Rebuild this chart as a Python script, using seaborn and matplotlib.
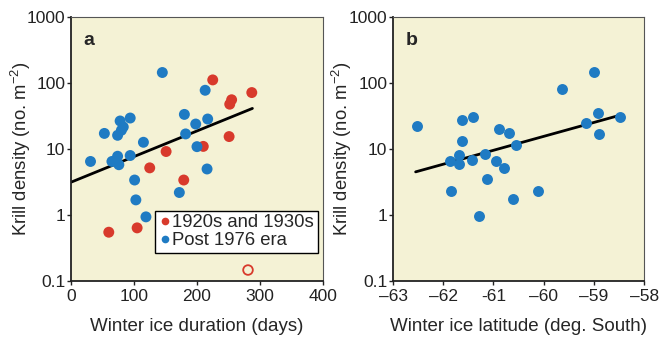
import numpy as np
import pandas as pd
import matplotlib
matplotlib.use("Agg")
import matplotlib.pyplot as plt
import seaborn as sns

# Panel a: winter ice duration (days) vs krill density
a_old_days = [225, 287, 255, 252, 251, 210, 151, 125, 179, 60, 105]
a_old_dens = [112, 72, 56, 48, 15.5, 11, 9.2, 5.2, 3.4, 0.55, 0.64]
a_new_days = [145, 213, 180, 94, 78, 83, 80, 53, 74, 198, 217, 182, 115, 200,
              94, 74, 65, 76, 31, 216, 101, 103, 172, 119]
a_new_dens = [145, 78, 33.6, 29.6, 26.7, 21.7, 19.3, 17.3, 16.2, 24, 28.6, 17,
              12.7, 10.9, 8.0, 7.8, 6.5, 5.8, 6.5, 5.0, 3.4, 1.7, 2.2, 0.94]
a_outlier_days = [281]
a_outlier_dens = [0.147]
a_fit_x = [0, 288]
a_fit_y = [3.15, 41.4]

# Panel b: winter ice latitude vs krill density
b_lat = [-62.53, -61.63, -61.41, -61.63, -61.68, -61.86, -61.69, -61.43, -61.17,
         -60.89, -60.69, -60.55, -60.94, -60.80, -61.12, -61.85, -60.62, -61.29,
         -60.11, -59.64, -59.00, -58.92, -59.15, -58.90, -58.48]
b_dens = [22.4, 27.9, 31, 13.1, 8.05, 6.5, 6.0, 6.8, 8.3, 19.9, 17.3, 11.4, 6.7,
          5.2, 3.5, 2.3, 1.77, 0.975, 2.33, 81.5, 149, 35.3, 25.2, 17, 30.7]
b_fit_x = [-62.55, -58.44]
b_fit_y = [4.52, 33.3]

era_labels = ["1920s and 1930s", "Post 1976 era"]
y_ticks = [0.1, 1, 10, 100, 1000]
y_tick_labels = ["0.1", "1", "10", "100", "1000"]
a_x_ticks = [0, 100, 200, 300, 400]
b_x_ticks = [-63, -62, -61, -60, -59, -58]
b_x_tick_labels = ["\u201363", "\u201362", "-61", "\u201360", "\u201359", "\u201358"]

red = "#d83a2c"
blue = "#1f7bc3"
bg = "#f4f2d5"

sns.set_style("ticks")
plt.rcParams["font.family"] = ["Liberation Sans", "DejaVu Sans"]
plt.rcParams["mathtext.fontset"] = "custom"
plt.rcParams["mathtext.rm"] = "Liberation Sans"
plt.rcParams["mathtext.it"] = "Liberation Sans"

df_a = pd.DataFrame({
    "days": a_old_days + a_new_days,
    "dens": a_old_dens + a_new_dens,
    "era": [era_labels[0]] * len(a_old_days) + [era_labels[1]] * len(a_new_days),
})
df_b = pd.DataFrame({"lat": b_lat, "dens": b_dens})

fig = plt.figure(figsize=(6.59, 3.37), dpi=100)
ax1 = fig.add_axes([0.1077, 0.166, 0.3824, 0.783])
ax2 = fig.add_axes([0.5964, 0.166, 0.381, 0.783])

sns.scatterplot(data=df_a, x="days", y="dens", hue="era", hue_order=era_labels,
                palette=[red, blue], s=62, linewidth=0, ax=ax1, zorder=3)
sns.scatterplot(x=a_outlier_days, y=a_outlier_dens, s=48, facecolor="none",
                edgecolor=red, linewidth=1.3, ax=ax1, zorder=3)
sns.lineplot(x=a_fit_x, y=a_fit_y, color="black", linewidth=2, ax=ax1, zorder=2)

sns.scatterplot(data=df_b, x="lat", y="dens", color=blue, s=62, linewidth=0,
                ax=ax2, zorder=3)
sns.lineplot(x=b_fit_x, y=b_fit_y, color="black", linewidth=2, ax=ax2, zorder=2)

for ax, label in [(ax1, "a"), (ax2, "b")]:
    ax.set_facecolor(bg)
    ax.set_yscale("log")
    ax.set_ylim(0.1, 1000)
    ax.set_yticks(y_ticks)
    ax.set_yticklabels(y_tick_labels)
    ax.yaxis.set_minor_locator(matplotlib.ticker.NullLocator())
    ax.tick_params(axis="both", labelsize=12.5, length=3, width=1, colors="#222222")
    ax.tick_params(axis="y", pad=1)
    ax.tick_params(axis="x", pad=2.5)
    ax.set_ylabel("Krill density (no. m$^{-2}$)", fontsize=13.3)
    for side in ["top", "right"]:
        ax.spines[side].set_linewidth(0.8)
        ax.spines[side].set_color("#555555")
    for side in ["left", "bottom"]:
        ax.spines[side].set_linewidth(1.3)
        ax.spines[side].set_color("#222222")
    ax.text(0.05, 0.91, label, transform=ax.transAxes, fontsize=14,
            fontweight="bold", va="center", ha="left")

ax1.yaxis.set_label_coords(-0.15, 0.5)
ax2.yaxis.set_label_coords(-0.154, 0.5)

ax1.set_xlim(0, 400)
ax1.set_xticks(a_x_ticks)
ax1.set_xlabel("Winter ice duration (days)", fontsize=13.5, labelpad=10)

ax2.set_xlim(-63, -58)
ax2.set_xticks(b_x_ticks)
ax2.set_xticklabels(b_x_tick_labels)
ax2.set_xlabel("Winter ice latitude (deg. South)", fontsize=13.5, labelpad=10)

leg = ax1.legend(loc="lower right", bbox_to_anchor=(0.98, 0.106), borderaxespad=0,
                 fontsize=13.3, frameon=True, fancybox=False, handletextpad=0.05,
                 handlelength=0.7, borderpad=0.2, labelspacing=0.05, markerscale=0.7)
leg.get_frame().set_edgecolor("black")
leg.get_frame().set_linewidth(1)
leg.get_frame().set_facecolor("white")
leg.get_frame().set_alpha(1)

fig.savefig("out.png", dpi=100)
